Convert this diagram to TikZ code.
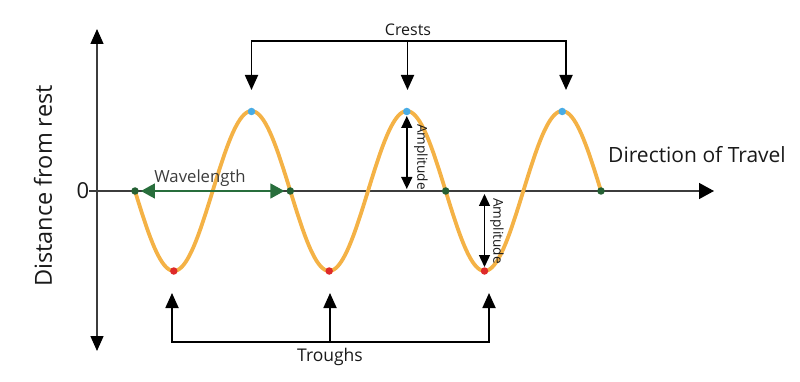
\documentclass[tikz,border=0pt]{standalone}
\usepackage{fontspec}
\setmainfont{Open Sans}
\usetikzlibrary{arrows.meta}
\definecolor{waveorange}{RGB}{244,178,70}
\definecolor{zerogreen}{RGB}{36,96,52}
\definecolor{arrowgreen}{RGB}{40,110,60}
\definecolor{crestblue}{RGB}{72,172,230}
\definecolor{troughred}{RGB}{222,42,42}
\definecolor{axisgray}{RGB}{60,60,60}
\definecolor{txt}{RGB}{25,25,25}
\tikzset{
  axisline/.style={draw=axisgray, line width=1.4pt},
  bracketline/.style={draw=black, line width=1.8pt},
  blackhead/.style={-{Triangle[length=15pt,width=13pt]}},
  dotbase/.style={circle, inner sep=0pt, minimum size=7.5pt},
  crestdot/.style={dotbase, fill=crestblue},
  troughdot/.style={dotbase, fill=troughred},
  zerodot/.style={dotbase, fill=zerogreen},
  lab/.style={text=txt, inner sep=0pt},
}
\begin{document}
\begin{tikzpicture}[x=1pt,y=-1pt]
\useasboundingbox (0,0) rectangle (800,382);
% axes
\coordinate (vtop) at (97,29);
\coordinate (vbot) at (97,351);
\coordinate (hleft) at (89,191);
\coordinate (hright) at (714,191);
\draw[axisline, {Triangle[length=15pt,width=13pt,color=black]}-{Triangle[length=15pt,width=13pt,color=black]}] (vbot) -- (vtop);
\draw[axisline, -{Triangle[length=15pt,width=16pt,color=black]}] (hleft) -- (hright);
% wave
\draw[waveorange, line width=3.8pt, line cap=round]
  plot[domain=135:601, samples=240] (\x, {191 + 80*sin((\x-135)/155.33*360)});
% dots
\node[zerodot] (z1) at (135,191) {};
\node[zerodot] (z2) at (290.3,191) {};
\node[zerodot] (z3) at (445.7,191) {};
\node[zerodot] (z4) at (601,191) {};
\node[crestdot] (c1) at (251.5,111.5) {};
\node[crestdot] (c2) at (406.8,111.5) {};
\node[crestdot] (c3) at (562.2,111.5) {};
\node[troughdot] (t1) at (173.8,271) {};
\node[troughdot] (t2) at (329.2,271) {};
\node[troughdot] (t3) at (484.5,271) {};
% wavelength
\draw[arrowgreen, line width=1.6pt, {Triangle[length=14pt,width=15pt]}-{Triangle[length=14pt,width=15pt]}, shorten <=2pt, shorten >=2pt] (z1) -- (z2);
\node[lab, text=axisgray, font=\fontsize{16.7}{18}\selectfont] (wl) at (200,178) {Wavelength};
% amplitudes
\coordinate (a1t) at (406.8,116);
\coordinate (a1b) at (406.8,189);
\coordinate (a2t) at (484.5,194);
\coordinate (a2b) at (484.5,267);
\draw[black, line width=1.4pt, {Triangle[length=12pt,width=11pt]}-{Triangle[length=12pt,width=11pt]}] (a1t) -- (a1b);
\draw[black, line width=1.4pt, {Triangle[length=12pt,width=11pt]}-{Triangle[length=12pt,width=11pt]}] (a2t) -- (a2b);
\node[lab, rotate=-90, font=\fontsize{13.6}{15}\selectfont] (am1) at (421,157) {Amplitude};
\node[lab, rotate=-90, font=\fontsize{13.6}{15}\selectfont] (am2) at (497,231) {Amplitude};
% crests bracket
\node[lab, font=\fontsize{16}{18}\selectfont] (crests) at (408,30) {Crests};
\coordinate (cb1) at (251.5,41);
\coordinate (cb2) at (407.5,41);
\coordinate (cb3) at (566,41);
\coordinate (ce1) at (251.5,90);
\coordinate (ce2) at (407.5,90);
\coordinate (ce3) at (566,90);
\draw[bracketline, line cap=rect] (cb1) -- (cb3);
\draw[bracketline, blackhead] (cb1) -- (ce1);
\draw[bracketline, blackhead] (cb2) -- (ce2);
\draw[bracketline, blackhead] (cb3) -- (ce3);
% troughs bracket
\node[lab, font=\fontsize{17.5}{20}\selectfont] (troughs) at (330,357) {Troughs};
\coordinate (tb1) at (172,342);
\coordinate (tb2) at (330,342);
\coordinate (tb3) at (489,342);
\coordinate (te1) at (172,293);
\coordinate (te2) at (330,293);
\coordinate (te3) at (489,293);
\draw[bracketline, line cap=rect] (tb1) -- (tb3);
\draw[bracketline, blackhead] (tb1) -- (te1);
\draw[bracketline, blackhead] (tb2) -- (te2);
\draw[bracketline, blackhead] (tb3) -- (te3);
% labels
\node[lab, rotate=90, font=\fontsize{23.5}{26}\selectfont] (dist) at (43,186) {Distance from rest};
\node[lab, font=\fontsize{22}{24}\selectfont] (zero) at (83,191) {0};
\node[lab, font=\fontsize{21}{24}\selectfont] (dir) at (697,155) {Direction of Travel};
\end{tikzpicture}
\end{document}
